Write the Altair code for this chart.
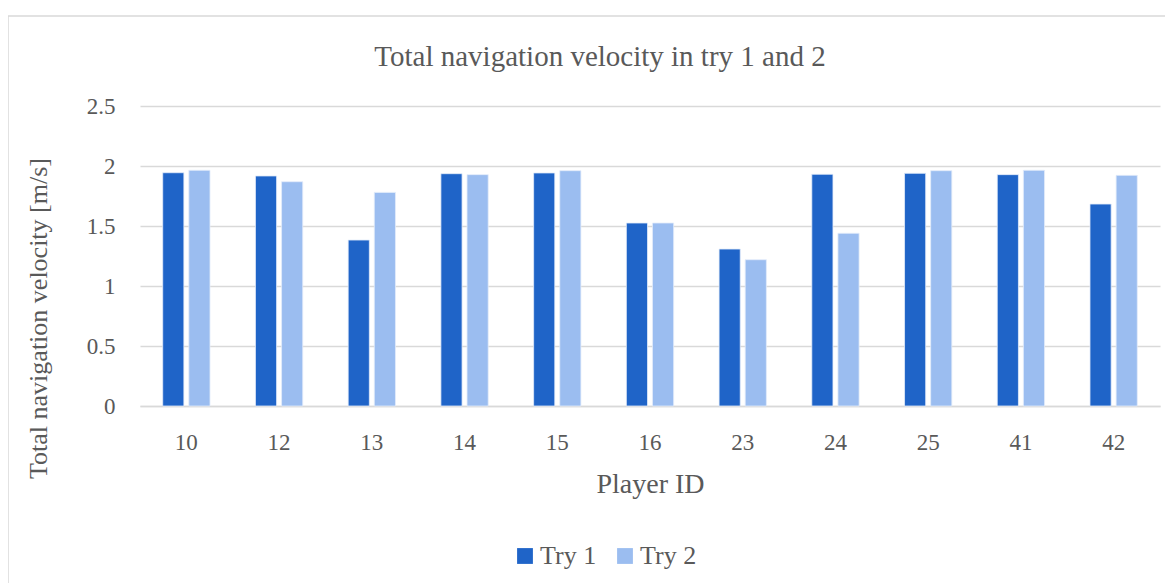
import altair as alt
import pandas as pd

players = ["10", "12", "13", "14", "15", "16", "23", "24", "25", "41", "42"]
try1 = [1.944, 1.917, 1.383, 1.936, 1.942, 1.525, 1.308, 1.931, 1.939, 1.928, 1.683]
try2 = [1.964, 1.869, 1.780, 1.928, 1.961, 1.525, 1.219, 1.439, 1.961, 1.964, 1.922]
series = ["Try 1", "Try 2"]
colors = ["#1F64C8", "#9BBDF0"]
y_ticks = [0, 0.5, 1, 1.5, 2, 2.5]

rows = []
for i, p in enumerate(players):
    rows.append({"player": p, "series": series[0], "value": try1[i]})
    rows.append({"player": p, "series": series[1], "value": try2[i]})
df = pd.DataFrame(rows)

FONT = "Liberation Serif"
TXT = "#595959"

bars = alt.Chart(df).mark_bar(stroke="#E3ECFA", strokeWidth=0.8).encode(
    x=alt.X("player:N", sort=players,
            scale=alt.Scale(paddingInner=0.49, paddingOuter=0.245),
            axis=alt.Axis(title="Player ID", labelAngle=0, labelFontSize=23,
                          labelColor=TXT, labelFont=FONT, labelPadding=25,
                          ticks=False, domainColor="#D9D9D9", domainWidth=1.5,
                          titleFont=FONT, titleFontSize=28, titleColor=TXT,
                          titleFontWeight="normal", titleY=78,
                          titleBaseline="middle")),
    xOffset=alt.XOffset("series:N", sort=series,
                        scale=alt.Scale(paddingInner=0.19, paddingOuter=0)),
    y=alt.Y("value:Q",
            scale=alt.Scale(domain=[0, 2.5], nice=False),
            axis=alt.Axis(title="Total navigation velocity [m/s]", values=y_ticks,
                          format="~g",
                          labelFontSize=23, labelColor=TXT, labelFont=FONT,
                          labelPadding=25, ticks=False, domain=False,
                          gridColor="#D9D9D9", gridWidth=1.5,
                          titleFont=FONT, titleFontSize=26, titleColor=TXT,
                          titleFontWeight="normal", titleX=-102, titleY=212,
                          titleAngle=270, titleBaseline="middle",
                          titleAlign="center")),
    color=alt.Color("series:N", sort=series,
                    scale=alt.Scale(domain=series, range=colors),
                    legend=alt.Legend(title=None, orient="none", direction="horizontal",
                                      legendX=372, legendY=437,
                                      symbolType="square", symbolSize=250,
                                      symbolStrokeWidth=0, labelFont=FONT,
                                      labelFontSize=26, labelColor=TXT,
                                      labelOffset=2, columnPadding=15)),
)

frame = alt.Chart(pd.DataFrame({"f": [0]})).mark_rect(
    fill=None, stroke="#D9D9D9", strokeWidth=1.5
).encode(
    x=alt.value(-132), x2=alt.value(1200),
    y=alt.value(-90), y2=alt.value(600),
)

chart = alt.layer(frame, bars).properties(
    width=1020,
    height=300,
    autosize=alt.AutoSizeParams(type="none"),
    padding={"left": 132, "top": 98, "right": 5, "bottom": 177},
    title=alt.TitleParams("Total navigation velocity in try 1 and 2",
                          font=FONT, fontSize=29, color=TXT, fontWeight="normal",
                          anchor="middle", frame="group", dx=-50, offset=-57),
).configure_view(stroke=None)

chart.save("out.html", embed_options={"renderer": "svg", "actions": False})
